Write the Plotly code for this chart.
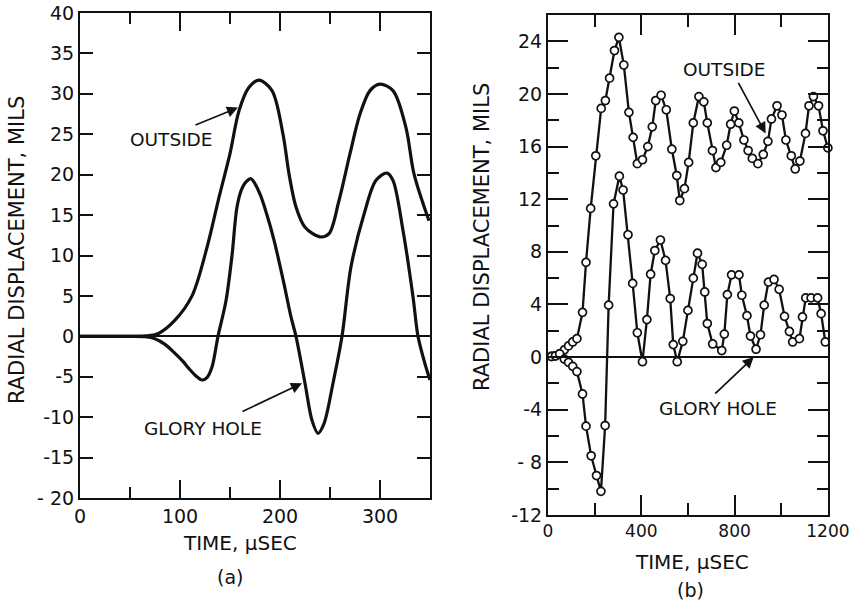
import plotly.graph_objects as go

W, H = 850, 602
INK = "#111111"
FONT = "DejaVu Sans"

# ---- panel (a): continuous records, time in microseconds, displacement in mils
t_a_outside = [0, 50, 65, 78, 95, 112, 127, 139, 150, 159, 169, 179, 192, 203, 209,
               216, 225, 240, 249, 259, 270, 280, 290, 300, 313, 326, 334, 349]
d_a_outside = [0, 0, 0.05, 0.33, 2.0, 5.0, 11.0, 17.2, 22.6, 27.9, 30.8, 31.7, 30.4, 25.0, 20.1,
               16.0, 13.5, 12.3, 12.7, 16.8, 22.6, 27.5, 30.4, 31.2, 30.4, 25.8, 20.1, 14.3]

t_a_glory = [0, 50, 65, 75, 85, 95, 103, 109, 116, 122, 127, 132, 138, 146, 152, 157, 162, 166,
             171, 180, 187, 194, 204, 211, 216, 225, 232, 238, 244, 253, 262, 271, 284, 296,
             307, 313, 323, 333, 338, 345, 350]
d_a_glory = [0, 0, -0.05, -0.3, -1.0, -2.1, -3.1, -4.0, -4.9, -5.4, -5.1, -3.8, 0, 4.4, 10.0,
             16.0, 18.3, 19.1, 19.5, 17.6, 15.0, 11.9, 6.5, 2.4, 0, -5.8, -10.4, -12.0, -10.8,
             -5.8, 0, 8.6, 15.1, 19.3, 20.2, 19.3, 13.1, 4.9, 0, -3.4, -5.4]

# ---- panel (b): sampled records
t_b_outside = [15, 32, 50, 70, 88, 106, 124, 148, 163, 183, 205, 228, 246, 264, 285, 304, 325,
               347, 365, 383, 405, 428, 447, 462, 485, 507, 531, 552, 565, 585, 603, 623, 647,
               668, 683, 705, 720, 741, 766, 783, 799, 818, 840, 858, 876, 900, 923, 943, 958,
               982, 1003, 1020, 1043, 1060, 1080, 1104, 1119, 1138, 1160, 1179, 1200]
d_b_outside = [0.05, 0.1, 0.25, 0.55, 0.85, 1.15, 1.4, 3.4, 7.2, 11.3, 15.3, 18.9, 19.5, 21.2,
               23.3, 24.3, 22.2, 18.6, 16.7, 14.7, 15.0, 16.0, 17.5, 19.5, 19.9, 18.8, 15.8, 13.8,
               11.9, 12.8, 14.8, 17.8, 19.8, 19.4, 17.8, 15.7, 14.4, 14.8, 16.1, 17.7, 18.7, 17.8,
               16.5, 15.7, 15.1, 14.7, 15.4, 16.4, 18.1, 19.1, 18.4, 16.5, 15.3, 14.3, 14.9, 17.0,
               19.1, 19.8, 19.1, 17.2, 15.9]

t_b_glory = [15, 32, 50, 70, 88, 106, 124, 148, 163, 185, 208, 227, 245, 260, 281, 306, 322,
             343, 363, 383, 405, 424, 440, 458, 482, 504, 524, 537, 554, 578, 600, 623, 641,
             661, 672, 683, 706, 745, 756, 769, 787, 819, 831, 853, 868, 892, 911, 927, 945,
             969, 991, 1014, 1035, 1049, 1078, 1091, 1105, 1128, 1156, 1171, 1189]
d_b_glory = [0.05, 0.1, 0.25, -0.15, -0.4, -0.7, -1.1, -2.8, -5.25, -7.5, -9.0, -10.2, -5.2,
             3.95, 11.65, 13.75, 12.7, 9.3, 5.6, 1.85, -0.35, 2.85, 6.3, 8.1, 8.9, 7.35, 4.45,
             0.95, -0.35, 1.2, 3.55, 6.0, 7.9, 7.05, 4.95, 2.55, 1.0, 0.5, 1.75, 4.75, 6.25,
             6.25, 4.7, 3.15, 1.6, 0.6, 1.7, 3.95, 5.7, 5.9, 5.15, 3.1, 1.95, 1.15, 1.4, 3.05,
             4.5, 4.5, 4.5, 3.3, 1.15]

# ---- tick labels
xticks_a = [0, 100, 200, 300]
yticks_a = [-20, -15, -10, -5, 0, 5, 10, 15, 20, 25, 30, 35, 40]
yticks_a_text = ["- 20", "-15", "-10", "-5", "0", "5", "10", "15", "20", "25", "30", "35", "40"]
xticks_b = [0, 400, 800, 1200]
yticks_b = [-12, -8, -4, 0, 4, 8, 12, 16, 20, 24]
yticks_b_text = ["-12", "- 8", "-4", "0", "4", "8", "12", "16", "20", "24"]


def px_x(p):
    return p / W


def px_y(p):
    return 1 - p / H


fig = go.Figure()

for t, d in ((t_a_outside, d_a_outside), (t_a_glory, d_a_glory)):
    fig.add_trace(go.Scatter(
        x=t, y=d, xaxis="x", yaxis="y", mode="lines",
        line=dict(color=INK, width=3.2, shape="spline", smoothing=0.9),
        showlegend=False, hoverinfo="skip"))

for t, d in ((t_b_outside, d_b_outside), (t_b_glory, d_b_glory)):
    fig.add_trace(go.Scatter(
        x=t, y=d, xaxis="x2", yaxis="y2", mode="lines+markers",
        line=dict(color=INK, width=2.3),
        marker=dict(symbol="circle", size=8, color="white",
                    line=dict(color=INK, width=1.7)),
        cliponaxis=False, showlegend=False, hoverinfo="skip"))

axis_common = dict(
    showline=True, linecolor=INK, linewidth=2, mirror="ticks",
    ticks="inside", tickcolor=INK, tickwidth=2, showgrid=False,
    tickfont=dict(family=FONT, size=19, color=INK),
    tickmode="array", fixedrange=True, automargin=False,
)

fig.update_layout(
    width=W, height=H,
    margin=dict(l=0, r=0, t=0, b=0),
    paper_bgcolor="white", plot_bgcolor="white",
    xaxis=dict(axis_common, domain=[px_x(80), px_x(430)], range=[0, 350],
               tickvals=xticks_a, ticktext=[str(v) for v in xticks_a], ticklen=18,
               zeroline=False, anchor="y",
               minor=dict(tickmode="linear", tick0=0, dtick=50, ticklen=11,
                          ticks="inside", tickcolor=INK, tickwidth=2)),
    yaxis=dict(axis_common, domain=[px_y(498), px_y(13)], range=[-20, 40],
               tickvals=yticks_a, ticktext=yticks_a_text, ticklen=13,
               zeroline=True, zerolinecolor=INK, zerolinewidth=1.6, anchor="x"),
    xaxis2=dict(axis_common, domain=[px_x(548), px_x(828)], range=[0, 1200.5],
                tickvals=xticks_b, ticktext=[str(v) for v in xticks_b], ticklen=20,
                tickfont=dict(family=FONT, size=17, color=INK),
                zeroline=False, anchor="y2",
                minor=dict(tickmode="linear", tick0=0, dtick=200, ticklen=12,
                           ticks="inside", tickcolor=INK, tickwidth=2)),
    yaxis2=dict(axis_common, domain=[px_y(515), px_y(15)], range=[-12, 26],
                tickvals=yticks_b, ticktext=yticks_b_text, ticklen=20,
                zeroline=True, zerolinecolor=INK, zerolinewidth=1.6, anchor="x2",
                minor=dict(tickmode="linear", tick0=0, dtick=2, ticklen=11,
                           ticks="inside", tickcolor=INK, tickwidth=2)),
)

def label(text, x, y, size=19, angle=0):
    fig.add_annotation(text=text, x=px_x(x), y=px_y(y), xref="paper", yref="paper",
                       showarrow=False, textangle=angle, xanchor="center", yanchor="middle",
                       font=dict(family=FONT, size=size, color=INK))


def pointer(xref, yref, x, y, ax, ay):
    fig.add_annotation(text="", x=x, y=y, xref=xref, yref=yref, ax=ax, ay=ay,
                       showarrow=True, arrowhead=2, arrowsize=1.3, arrowwidth=1.7,
                       arrowcolor=INK, standoff=0)


# axis titles and panel captions
label("RADIAL DISPLACEMENT, MILS", 17, 250, size=21, angle=-90)
label("RADIAL DISPLACEMENT, MILS", 482, 237, size=21, angle=-90)
label("TIME, \u03bcSEC", 240, 543, size=20)
label("TIME, \u03bcSEC", 692, 562, size=20)
label("(a)", 230, 577, size=19)
label("(b)", 690, 590, size=19)

# curve labels with pointers
label("OUTSIDE", 171, 140, size=18.5)
pointer("x", "y", 158, 28.3, -44, 18)
label("GLORY HOLE", 203, 429, size=18.5)
pointer("x", "y", 222, -5.8, -61, 29)
label("OUTSIDE", 724, 70, size=18.5)
pointer("x2", "y2", 933, 17.0, -28, -52)
label("GLORY HOLE", 718, 408, size=18.5)
pointer("x2", "y2", 882, 0.0, -40, 38)

fig.write_html("out.html")
